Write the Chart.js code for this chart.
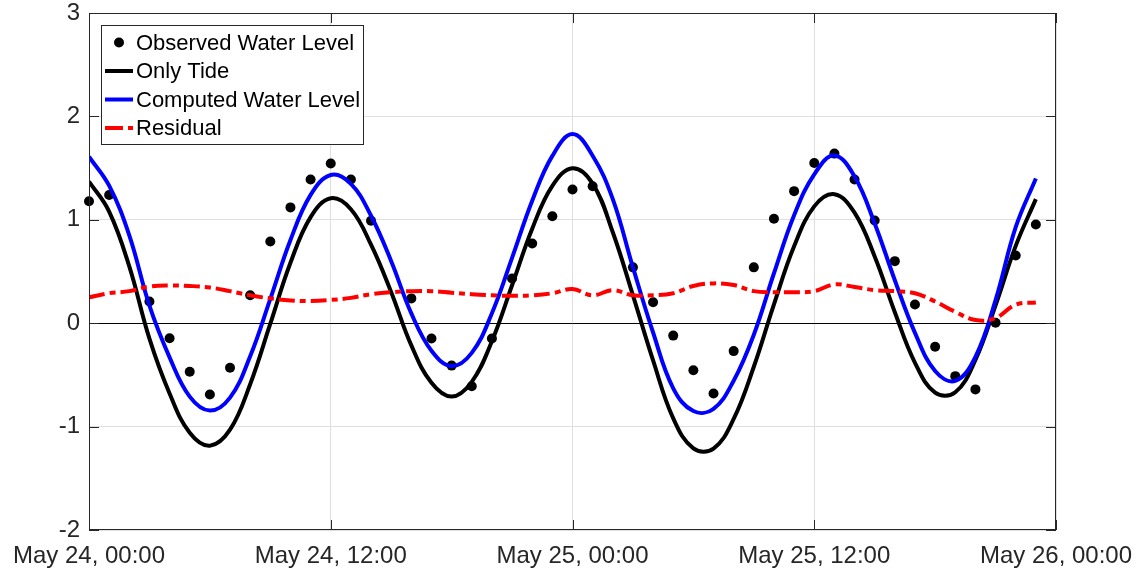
<!DOCTYPE html>
<html><head><meta charset="utf-8">
<script src="https://cdn.jsdelivr.net/npm/chart.js@4.4.1/dist/chart.umd.min.js"></script>
<style>html,body{margin:0;padding:0;background:#fff;}canvas{display:block;}</style>
</head><body>
<canvas id="c" width="1141" height="577"></canvas>
<script>
// ---- data (hours since May 24, 00:00) ----
const hours = [0,1,2,3,4,5,6,7,8,9,10,11,12,13,14,15,16,17,18,19,20,21,22,23,24,25,26,27,28,29,30,31,32,33,34,35,36,37,38,39,40,41,42,43,44,45,46,47];
const tickHours = [0,12,24,36,48];
const tickLabels = ['May 24, 00:00','May 24, 12:00','May 25, 00:00','May 25, 12:00','May 26, 00:00'];
const seriesLabels = ['Observed Water Level','Only Tide','Computed Water Level','Residual'];
const observed = [1.18,1.24,null,0.21,-0.145,-0.47,-0.69,-0.43,0.27,0.79,1.12,1.39,1.545,1.39,0.99,null,0.24,-0.148,-0.41,-0.61,-0.148,0.432,0.77,1.035,1.293,1.325,null,0.54,0.203,-0.12,-0.455,-0.68,-0.27,0.54,1.01,1.277,1.55,1.64,1.39,0.993,0.60,0.18,-0.228,-0.512,-0.64,0.004,0.655,0.955];
const onlyTide = [1.37,1.08,0.55,-0.15,-0.68,-1.06,-1.185,-1.03,-0.59,-0.005,0.584,1.026,1.208,1.102,0.759,0.30,-0.215,-0.577,-0.71,-0.567,-0.174,0.367,0.914,1.328,1.499,1.35,0.88,0.27,-0.36,-0.92,-1.21,-1.2125,-0.926,-0.421,0.183,0.744,1.13,1.248,1.069,0.645,0.106,-0.383,-0.672,-0.668,-0.355,0.173,0.748,1.20];
const computed = [1.61,1.33,0.85,0.17,-0.33,-0.71,-0.845,-0.72,-0.32,0.235,0.804,1.241,1.433,1.347,1.039,0.60,0.095,-0.267,-0.415,-0.287,0.096,0.632,1.184,1.618,1.829,1.62,1.20,0.54,-0.09,-0.63,-0.85,-0.828,-0.556,-0.111,0.483,1.044,1.44,1.623,1.419,0.965,0.416,-0.093,-0.462,-0.558,-0.325,0.223,0.928,1.40];
const residual = [0.25,0.29,0.31,0.355,0.365,0.36,0.345,0.31,0.27,0.24,0.22,0.215,0.225,0.245,0.28,0.30,0.31,0.31,0.295,0.28,0.27,0.265,0.27,0.29,0.33,0.27,0.32,0.27,0.27,0.29,0.36,0.385,0.37,0.31,0.30,0.30,0.31,0.375,0.35,0.32,0.31,0.29,0.21,0.11,0.03,0.05,0.18,0.20];

const FONT = "'Liberation Sans', Arial, Helvetica, sans-serif";
const pts = arr => hours.map((h,i)=>({x:h,y:arr[i]})).filter(p=>p.y!==null);
const resDash = [16,5,6,5];

const frameAndLegend = {
  id:'frameAndLegend',
  afterDraw(chart){
    const {ctx, chartArea:a, scales:{x,y}} = chart;
    ctx.save();
    ctx.strokeStyle = '#262626'; ctx.lineWidth = 1;
    ctx.beginPath();
    tickHours.forEach(v=>{
      const px = Math.round(x.getPixelForValue(v))+0.5;
      ctx.moveTo(px,a.bottom); ctx.lineTo(px,a.bottom-10);
      ctx.moveTo(px,a.top); ctx.lineTo(px,a.top+10);
    });
    y.ticks.forEach(t=>{
      const py = Math.round(y.getPixelForValue(t.value))+0.5;
      ctx.moveTo(a.left,py); ctx.lineTo(a.left+10,py);
      ctx.moveTo(a.right,py); ctx.lineTo(a.right-10,py);
    });
    ctx.stroke();
    ctx.strokeRect(Math.round(a.left)+0.5, Math.round(a.top)+0.5, Math.round(a.right-a.left)-1, Math.round(a.bottom-a.top)-1);
    // legend
    const L = Math.round(a.left)+12, T = Math.round(a.top)+12, W = 262, H = 119;
    ctx.fillStyle='#fff'; ctx.fillRect(L,T,W,H);
    ctx.strokeRect(L+0.5,T+0.5,W,H);
    const rows = [T+17.5, T+46, T+74.5, T+103];
    const ds = chart.data.datasets;
    ctx.beginPath(); ctx.arc(L+18, rows[0], 5, 0, Math.PI*2); ctx.fillStyle='#000'; ctx.fill();
    [1,2,3].forEach(k=>{
      const d = ds.find(s=>s.label===seriesLabels[k]);
      ctx.beginPath(); ctx.lineWidth=4; ctx.strokeStyle=d.borderColor;
      ctx.setLineDash(k===3 ? [18,5,5,5] : []);
      ctx.moveTo(L+4, rows[k]); ctx.lineTo(L+32, rows[k]); ctx.stroke();
    });
    ctx.setLineDash([]);
    ctx.font = '22px '+FONT; ctx.textBaseline='middle'; ctx.fillStyle='#000';
    seriesLabels.forEach((s,k)=>ctx.fillText(s, L+35, rows[k]+1));
    ctx.restore();
  }
};

new Chart(document.getElementById('c'), {
  type:'line',
  data:{ datasets:[
    {label:seriesLabels[0], type:'scatter', data:pts(observed), pointRadius:5, pointBackgroundColor:'#000', pointBorderWidth:0, showLine:false, clip:false, order:4},
    {label:seriesLabels[1], data:pts(onlyTide), borderColor:'#000', borderWidth:4, pointRadius:0, tension:0.4, order:3},
    {label:seriesLabels[2], data:pts(computed), borderColor:'#0000ff', borderWidth:4, pointRadius:0, tension:0.4, order:2},
    {label:seriesLabels[3], data:pts(residual), borderColor:'#ff0000', borderWidth:4, borderDash:resDash, pointRadius:0, tension:0.4, order:1}
  ]},
  options:{
    responsive:false, animation:false, events:[],
    layout:{padding:{top:13,right:85,left:0,bottom:0}},
    plugins:{legend:{display:false}, tooltip:{enabled:false}},
    scales:{
      x:{type:'linear', min:0, max:48,
        afterBuildTicks:s=>{s.ticks = tickHours.map(v=>({value:v}));},
        afterFit:s=>{s.height=47; s.paddingLeft=0; s.paddingRight=0;},
        ticks:{autoSkip:false, maxRotation:0, padding:14, color:'#262626', font:{family:FONT,size:24,lineHeight:1},
          callback:v=>tickLabels[tickHours.indexOf(v)]},
        grid:{color:'#dfdfdf', drawTicks:false}, border:{display:false}},
      y:{min:-2, max:3,
        ticks:{stepSize:1, padding:9, color:'#262626', font:{family:FONT,size:24,lineHeight:1}},
        afterFit:s=>{s.width=89; s.paddingTop=0; s.paddingBottom=0;},
        grid:{color:c=>c.tick && c.tick.value===0 ? '#000' : '#dfdfdf', drawTicks:false}, border:{display:false}}
    }
  },
  plugins:[frameAndLegend]
});
</script>
</body></html>
